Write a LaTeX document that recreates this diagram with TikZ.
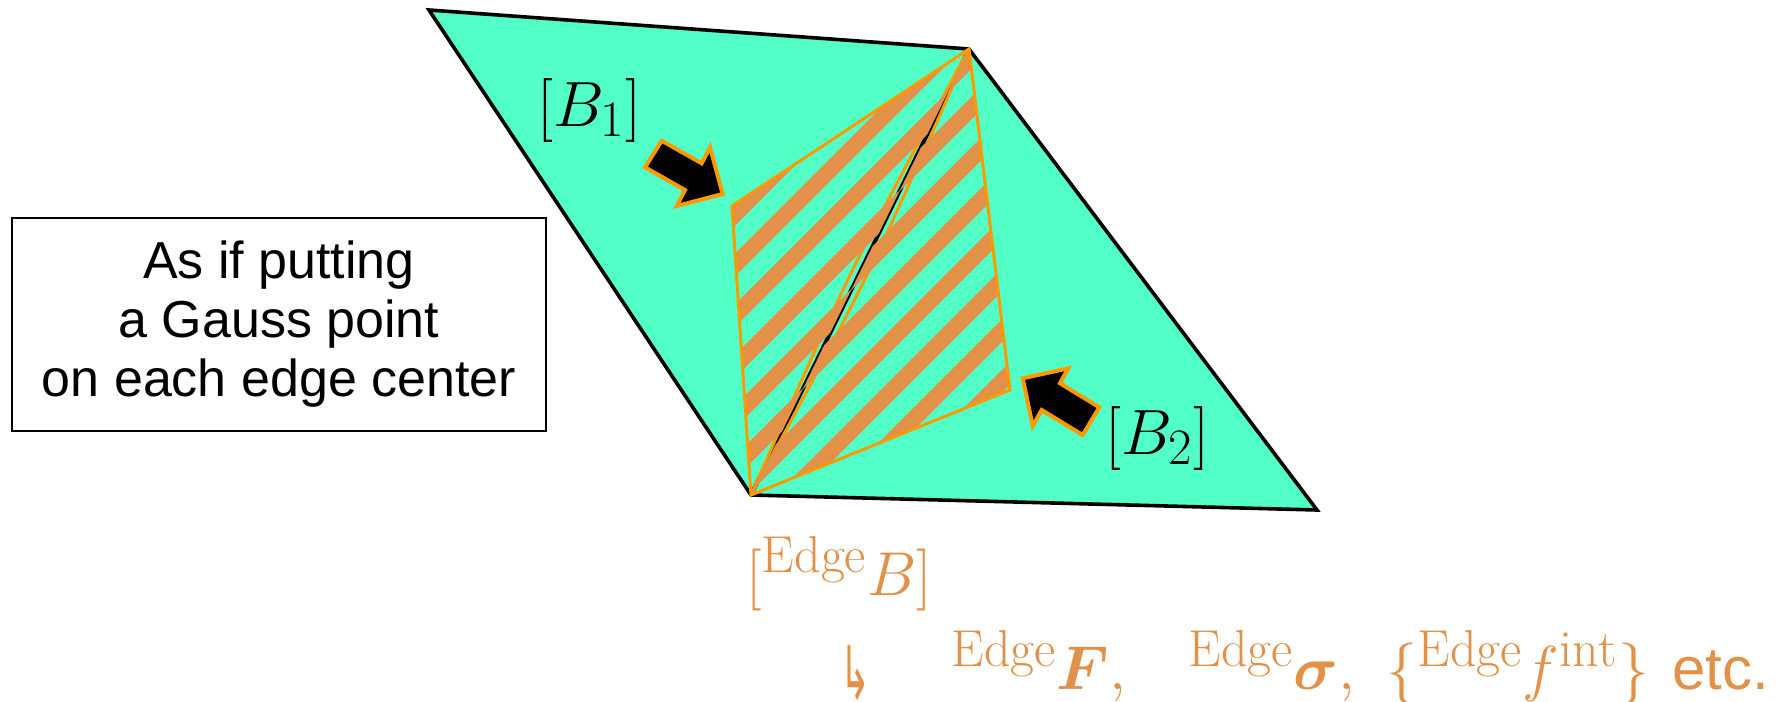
\documentclass[tikz,border=0pt]{standalone}
\usepackage{fix-cm}
\usepackage{bm}
\usepackage{graphicx}
\usepackage{fontspec}
\newfontfamily\arialf{Liberation Sans}
\newfontfamily\dejavu{DejaVu Sans}
\DeclareMathSizes{31}{31}{26}{19}
\DeclareMathSizes{32}{32}{25.5}{19}
\definecolor{mint}{RGB}{82,255,198}
\definecolor{hatchc}{RGB}{227,144,73}
\definecolor{outl}{RGB}{255,153,0}
\tikzset{
  edgeline/.style={black, line width=1.8pt, line join=miter},
  orangeline/.style={outl, line width=1.5pt, line join=miter},
  stripe/.style={hatchc, line width=8pt},
  blockarrow/.style={fill=black, draw=outl, line width=2pt, line join=miter},
  mathlabel/.style={inner sep=0pt, font=\fontsize{32}{32}\selectfont},
  orangetext/.style={inner sep=0pt, anchor=base west, text=hatchc, font=\fontsize{31}{31}\selectfont}
}
\begin{document}
\begin{tikzpicture}[x=0.5pt,y=-0.5pt]
\useasboundingbox (0,0) rectangle (1785,702);
\coordinate (TL) at (429,10);
\coordinate (TR) at (969,49);
\coordinate (BL) at (751,495);
\coordinate (BR) at (1317,510);
\coordinate (P1) at (732,206);
\coordinate (P2) at (1010,390);
% green element pair
\fill[mint] (TL)--(TR)--(BR)--(BL)--cycle;
\draw[edgeline] (TL)--(TR)--(BR)--(BL)--cycle;
\draw[black, line width=2pt] (TR)--(BL);
% lens edges of the two hatched triangles along the diagonal
\draw[outl, line width=1.5pt] (TR) .. controls (869.0,276.4) .. (BL);
\draw[outl, line width=1.5pt] (TR) .. controls (851.0,267.6) .. (BL);
% hatch of B1
\begin{scope}
\clip (TR)--(P1)--(BL)--cycle;
\foreach \k in {-3,...,10}
  \draw[stripe] (600,{1000+50.6*\k-600}) -- (1300,{1000+50.6*\k-1300});
\end{scope}
% hatch of B2
\begin{scope}
\clip (TR)--(BL)--(P2)--cycle;
\foreach \k in {-3,...,10}
  \draw[stripe] (600,{1029+50.6*\k-600}) -- (1300,{1029+50.6*\k-1300});
\end{scope}
\draw[orangeline] (TR)--(P1)--(BL)--(P2)--cycle;
% block arrows
\draw[blockarrow] (661.7,140.7) -- (701.7,163.3) -- (710,147.3) -- (722.7,194)
  -- (676.7,206) -- (685,190) -- (645,167.3) -- cycle;
\draw[blockarrow] (1022.7,378.3) -- (1068.3,368.3) -- (1060,383.3) -- (1099.3,407.3)
  -- (1082.7,435) -- (1041.7,410) -- (1032.7,426) -- cycle;
% labels
\node[mathlabel] (b1) at (589,110) {$[B_1]$};
\node[mathlabel] (b2) at (1157,438) {$[B_2]$};
% text box
\node[draw, line width=0.8pt, minimum width=267pt, minimum height=106.5pt, inner sep=0pt,
  align=center, font=\fontsize{26}{29.5}\selectfont\arialf] (box) at (279,324.5)
  {As if putting\\a Gauss point\\on each edge center};
% orange formulas
\node[orangetext] (eb) at (746,595) {$[{}^{\mathrm{Edge}}B]$};
\node[orangetext] (hook) at (840,689) {\dejavu\raisebox{-5pt}{\resizebox{15pt}{27pt}{↳}}};
\node[orangetext] (ef) at (951,689) {${}^{\mathrm{Edge}}\bm{F},$};
\node[orangetext] (es) at (1188,689) {${}^{\mathrm{Edge}}\bm{\sigma},$};
\node[orangetext] (efi) at (1386,689) {$\{{}^{\mathrm{Edge}}f^{\mathrm{int}}\}$};
\node[orangetext, font=\fontsize{30}{30}\selectfont\arialf] (etc) at (1672,689) {etc.};
\end{tikzpicture}
\end{document}
